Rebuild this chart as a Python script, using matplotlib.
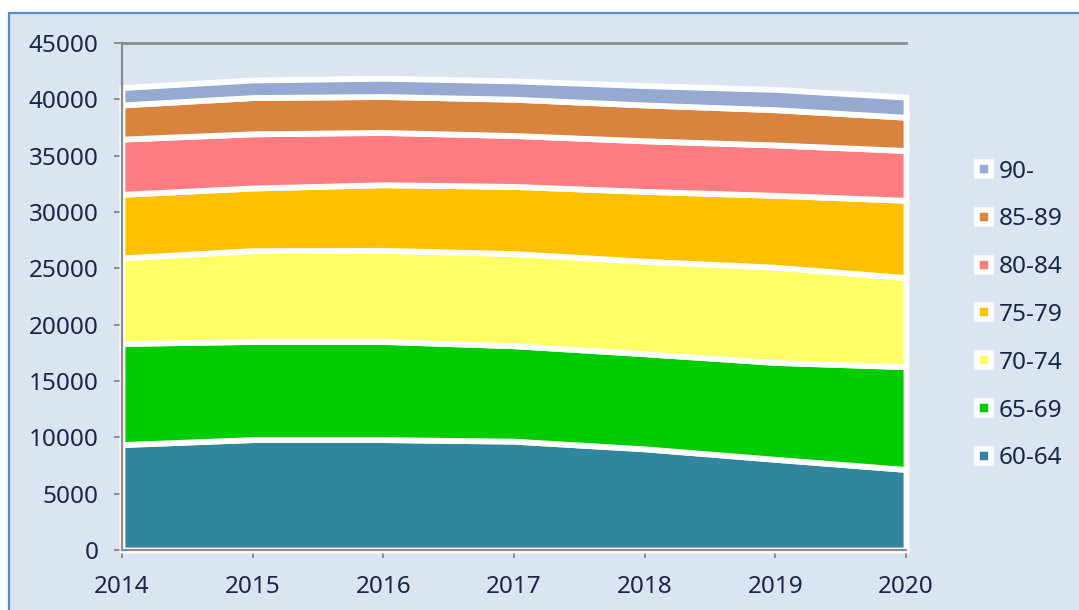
import matplotlib
matplotlib.use("Agg")
from matplotlib import pyplot as plt
from matplotlib.lines import Line2D
from matplotlib.patches import Rectangle

plt.rcParams['font.family'] = ['Noto Sans', 'DejaVu Sans']

years = [2014, 2015, 2016, 2017, 2018, 2019, 2020]
groups = ["60-64", "65-69", "70-74", "75-79", "80-84", "85-89", "90-"]

age_60_64 = [9360, 9800, 9800, 9660, 8980, 8050, 7150]
age_65_69 = [8970, 8710, 8710, 8470, 8440, 8600, 9120]
age_70_74 = [7600, 8060, 8090, 8180, 8210, 8450, 7910]
age_75_79 = [5640, 5560, 5820, 5960, 6200, 6380, 6860]
age_80_84 = [4900, 4810, 4640, 4520, 4490, 4470, 4420]
age_85_89 = [3030, 3220, 3190, 3220, 3180, 3130, 2950]
age_90 = [1540, 1560, 1620, 1630, 1720, 1800, 1790]

colors = ["#31859C", "#00CC00", "#FFFF66", "#FFC000", "#FF7C80", "#D9843E", "#95A9D1"]
bg = "#DBE5F1"
txt = "#162847"

fig = plt.figure(figsize=(10.79, 6.10), dpi=100, facecolor="white")
# panel background with blue border
fig.patches.append(Rectangle((9 / 1079, -0.05), 1.2, 1 - 13 / 610 + 0.05,
                             transform=fig.transFigure, facecolor=bg,
                             edgecolor="#5B8BC8", linewidth=1.6, zorder=-5))

ax = fig.add_axes([122 / 1079, 1 - 550 / 610, (906 - 122) / 1079, (550 - 43) / 610])
ax.set_zorder(1)
ax.set_facecolor("none")

series = [age_60_64, age_65_69, age_70_74, age_75_79, age_80_84, age_85_89, age_90]
ax.stackplot(years, series, colors=colors, edgecolor="white", linewidth=4.2,
             joinstyle="miter", zorder=2, clip_on=False)

ax.set_xlim(2014, 2020)
ax.set_ylim(0, 45000)
ax.set_xticks(years)
ax.set_yticks(range(0, 45001, 5000))
ax.axhline(45000, color="#8C8C8C", linewidth=2, zorder=1, clip_on=False)

for s in ["top", "right"]:
    ax.spines[s].set_visible(False)
for s in ["left", "bottom"]:
    ax.spines[s].set_color("#8C8C8C")
    ax.spines[s].set_linewidth(1.6)
    ax.spines[s].set_zorder(3)

ax.tick_params(axis="y", direction="out", length=6, width=1.4, color="#8C8C8C",
               labelsize=17.5, labelcolor=txt, pad=11)
ax.tick_params(axis="x", direction="out", length=6, width=1.4, color="#8C8C8C",
               labelsize=17.5, labelcolor=txt, pad=12)

handles = [Line2D([], [], linestyle="none", marker="s", markersize=10,
                  markerfacecolor=c, markeredgecolor="white", markeredgewidth=4)
           for c in colors]
leg = fig.legend(handles[::-1], groups[::-1], loc="center left",
                 bbox_to_anchor=(966 / 1079, 1 - 315 / 610), frameon=False,
                 fontsize=17.5, labelcolor=txt, labelspacing=0.98,
                 handlelength=0.7, handletextpad=0.25, borderaxespad=0)

plt.savefig("out.png", dpi=100, facecolor="white")
